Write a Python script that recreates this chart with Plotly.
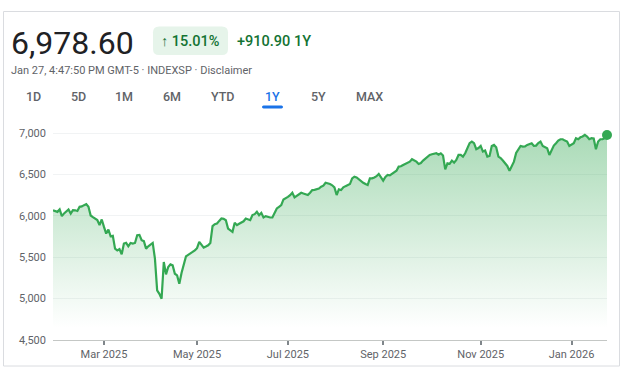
import plotly.graph_objects as go

# ---------------- data (daily closes, trading days only) ----------------
dates = [
    "2025-01-28", "2025-01-29", "2025-01-30", "2025-01-31",
    "2025-02-03", "2025-02-04", "2025-02-05", "2025-02-06", "2025-02-07", "2025-02-10",
    "2025-02-11", "2025-02-12", "2025-02-13", "2025-02-14", "2025-02-18", "2025-02-19",
    "2025-02-20", "2025-02-21", "2025-02-24", "2025-02-25", "2025-02-26", "2025-02-27",
    "2025-02-28",
    "2025-03-03", "2025-03-04", "2025-03-05", "2025-03-06", "2025-03-07", "2025-03-10",
    "2025-03-11", "2025-03-12", "2025-03-13", "2025-03-14", "2025-03-17", "2025-03-18",
    "2025-03-19", "2025-03-20", "2025-03-21", "2025-03-24", "2025-03-25", "2025-03-26",
    "2025-03-27", "2025-03-28", "2025-03-31",
    "2025-04-01", "2025-04-02", "2025-04-03", "2025-04-04", "2025-04-07", "2025-04-08",
    "2025-04-09", "2025-04-10", "2025-04-11", "2025-04-14", "2025-04-15", "2025-04-16",
    "2025-04-17", "2025-04-21", "2025-04-22", "2025-04-23", "2025-04-24", "2025-04-25",
    "2025-04-28", "2025-04-29", "2025-04-30",
    "2025-05-01", "2025-05-02", "2025-05-05", "2025-05-06", "2025-05-07", "2025-05-08",
    "2025-05-09", "2025-05-12", "2025-05-13", "2025-05-14", "2025-05-15", "2025-05-16",
    "2025-05-19", "2025-05-20", "2025-05-21", "2025-05-22", "2025-05-23", "2025-05-27",
    "2025-05-28", "2025-05-29", "2025-05-30",
    "2025-06-02", "2025-06-03", "2025-06-04", "2025-06-05", "2025-06-06", "2025-06-09",
    "2025-06-10", "2025-06-11", "2025-06-12", "2025-06-13", "2025-06-16", "2025-06-17",
    "2025-06-18", "2025-06-20", "2025-06-23", "2025-06-24", "2025-06-25", "2025-06-26",
    "2025-06-27", "2025-06-30",
    "2025-07-01", "2025-07-02", "2025-07-03", "2025-07-07", "2025-07-08", "2025-07-09",
    "2025-07-10", "2025-07-11", "2025-07-14", "2025-07-15", "2025-07-16", "2025-07-17",
    "2025-07-18", "2025-07-21", "2025-07-22", "2025-07-23", "2025-07-24", "2025-07-25",
    "2025-07-28", "2025-07-29", "2025-07-30", "2025-07-31",
    "2025-08-01", "2025-08-04", "2025-08-05", "2025-08-06", "2025-08-07", "2025-08-08",
    "2025-08-11", "2025-08-12", "2025-08-13", "2025-08-14", "2025-08-15", "2025-08-18",
    "2025-08-19", "2025-08-20", "2025-08-21", "2025-08-22", "2025-08-25", "2025-08-26",
    "2025-08-27", "2025-08-28", "2025-08-29",
    "2025-09-02", "2025-09-03", "2025-09-04", "2025-09-05", "2025-09-08", "2025-09-09",
    "2025-09-10", "2025-09-11", "2025-09-12", "2025-09-15", "2025-09-16", "2025-09-17",
    "2025-09-18", "2025-09-19", "2025-09-22", "2025-09-23", "2025-09-24", "2025-09-25",
    "2025-09-26", "2025-09-29", "2025-09-30",
    "2025-10-01", "2025-10-02", "2025-10-03", "2025-10-06", "2025-10-07", "2025-10-08",
    "2025-10-09", "2025-10-10", "2025-10-13", "2025-10-14", "2025-10-15", "2025-10-16",
    "2025-10-17", "2025-10-20", "2025-10-21", "2025-10-22", "2025-10-23", "2025-10-24",
    "2025-10-27", "2025-10-28", "2025-10-29", "2025-10-30", "2025-10-31",
    "2025-11-03", "2025-11-04", "2025-11-05", "2025-11-06", "2025-11-07", "2025-11-10",
    "2025-11-11", "2025-11-12", "2025-11-13", "2025-11-14", "2025-11-17", "2025-11-18",
    "2025-11-19", "2025-11-20", "2025-11-21", "2025-11-24", "2025-11-25", "2025-11-26",
    "2025-11-28",
    "2025-12-01", "2025-12-02", "2025-12-03", "2025-12-04", "2025-12-05", "2025-12-08",
    "2025-12-09", "2025-12-10", "2025-12-11", "2025-12-12", "2025-12-15", "2025-12-16",
    "2025-12-17", "2025-12-18", "2025-12-19", "2025-12-22", "2025-12-23", "2025-12-24",
    "2025-12-26", "2025-12-29", "2025-12-30", "2025-12-31",
    "2026-01-02", "2026-01-05", "2026-01-06", "2026-01-07", "2026-01-08", "2026-01-09",
    "2026-01-12", "2026-01-13", "2026-01-14", "2026-01-15", "2026-01-16", "2026-01-20",
    "2026-01-21", "2026-01-22", "2026-01-23", "2026-01-26", "2026-01-27",
]
prices = [
    6068, 6058, 6049, 6078,
    5997, 6030, 6050, 6078, 6029, 6070,
    6068, 6060, 6110, 6115, 6130, 6142,
    6110, 6005, 5985, 5969, 5950, 5888,
    5957,
    5867, 5787, 5835, 5754, 5760, 5604,
    5584, 5600, 5536, 5665, 5675, 5633,
    5673, 5665, 5673, 5766, 5770, 5706,
    5695, 5604, 5633,
    5650, 5673, 5483, 5099, 5058, 4998,
    5443, 5293, 5382, 5414, 5402, 5301,
    5281, 5180, 5309, 5422, 5511, 5530,
    5544, 5565, 5584,
    5610, 5686, 5650, 5617, 5630, 5645,
    5673, 5876, 5900, 5908, 5940, 5969,
    5965, 5948, 5847, 5827, 5807, 5916,
    5888, 5905, 5916,
    5935, 5969, 5955, 5948, 6010, 6021,
    6049, 6009, 6037, 5981, 5997, 5985,
    5981, 5981, 6030, 6090, 6110, 6130,
    6199, 6211,
    6230, 6250, 6280, 6223, 6239, 6260,
    6280, 6270, 6264, 6252, 6280, 6312,
    6315, 6320, 6330, 6353, 6365, 6401,
    6395, 6385, 6370, 6345,
    6252, 6320, 6312, 6345, 6360, 6373,
    6385, 6454, 6474, 6465, 6442, 6420,
    6401, 6385, 6373, 6454, 6454, 6465,
    6480, 6507, 6466,
    6426, 6470, 6495, 6490, 6507, 6530,
    6547, 6596, 6600, 6615, 6628, 6640,
    6656, 6685, 6670, 6656, 6628, 6640,
    6669, 6690, 6717,
    6737, 6745, 6750, 6757, 6740, 6757,
    6730, 6563, 6636, 6630, 6669, 6644,
    6677, 6737, 6737, 6717, 6757, 6830,
    6880, 6899, 6879, 6806, 6820,
    6846, 6778, 6790, 6717, 6725, 6846,
    6858, 6830, 6717, 6700, 6669, 6636,
    6604, 6547, 6600, 6656, 6760, 6798,
    6846,
    6838, 6840, 6858, 6865, 6879, 6846,
    6850, 6880, 6899, 6846, 6830, 6818,
    6737, 6798, 6850, 6879, 6910, 6927,
    6927, 6910, 6899, 6846,
    6865, 6879, 6939, 6927, 6950, 6960,
    6980, 6960, 6927, 6939, 6935, 6806,
    6899, 6927, 6927, 6940, 6978.6,
]
market_holidays = ["2025-02-17", "2025-04-18", "2025-05-26", "2025-06-19", "2025-07-04",
                   "2025-09-01", "2025-11-27", "2025-12-25", "2026-01-01", "2026-01-19"]
y_ticks = [4500, 5000, 5500, 6000, 6500, 7000]
x_ticks = ["2025-03-03", "2025-05-01", "2025-07-01", "2025-09-02", "2025-11-03", "2026-01-02"]
x_tick_labels = ["Mar 2025", "May 2025", "Jul 2025", "Sep 2025", "Nov 2025", "Jan 2026"]
last_price = "6,978.60"
pct_change = "↑15.01%"
abs_change = "+910.90 1Y"
subtitle = "Jan 27, 4:47:50 PM GMT-5 · INDEXSP · Disclaimer"
ranges = ["1D", "5D", "1M", "6M", "YTD", "1Y", "5Y", "MAX"]
active_range = "1Y"

# ---------------- figure ----------------
W, H = 640, 384
GREEN = "#34a853"
GREY = "#5f6368"
FONT = "Roboto"


def px_x(v):
    return v / W


def px_y(v):
    return 1 - v / H


base = [y_ticks[0]] * len(dates)

fig = go.Figure()
fig.add_trace(go.Scatter(x=dates, y=base, mode="lines", line=dict(width=0),
                         hoverinfo="skip", showlegend=False))
fig.add_trace(go.Scatter(
    x=dates, y=prices, mode="lines", fill="tonexty",
    line=dict(color=GREEN, width=2.2),
    fillgradient=dict(type="vertical", start=4650, stop=7000,
                      colorscale=[[0, "rgba(52,168,83,0)"], [1, "rgba(52,168,83,0.42)"]]),
    showlegend=False))
fig.add_trace(go.Scatter(x=[dates[-1]], y=[prices[-1]], mode="markers",
                         marker=dict(color=GREEN, size=10), cliponaxis=False,
                         showlegend=False))

fig.update_layout(
    template="none",
    width=W, height=H,
    margin=dict(l=0, r=0, t=0, b=0, pad=0),
    paper_bgcolor="white", plot_bgcolor="white",
    font=dict(family=FONT, color=GREY, size=11),
    xaxis=dict(
        automargin=False,
        domain=[px_x(53), px_x(607)],
        range=[dates[0], dates[-1]],
        rangebreaks=[dict(bounds=["sat", "mon"]), dict(values=market_holidays)],
        tickvals=x_ticks, ticktext=x_tick_labels,
        showgrid=False, zeroline=False,
        showline=True, linecolor="#c4c7c5", linewidth=1,
        ticks="outside", ticklen=4, tickcolor="#80868b", tickwidth=2,
        tickfont=dict(size=11, color=GREY),
    ),
    yaxis=dict(
        automargin=False,
        domain=[px_y(340), px_y(124.5)],
        range=[4500, 7105],
        tickvals=y_ticks, tickformat=",d",
        showgrid=True, gridcolor="#f1f3f4", gridwidth=1,
        zeroline=False, showline=False, ticks="",
        ticklabelstandoff=6,
        tickfont=dict(size=11, color=GREY),
    ),
)

shapes = []
# card border
shapes.append(dict(type="rect", xref="paper", yref="paper",
                   x0=px_x(3.5), x1=px_x(619.5), y0=px_y(366), y1=px_y(11.5),
                   line=dict(color="#dadce0", width=1), fillcolor="rgba(0,0,0,0)",
                   layer="below"))


def rounded_rect(x0, y0, x1, y1, r):
    # pixel coords -> paper path with rounded corners
    def P(x, y):
        return f"{px_x(x):.5f},{px_y(y):.5f}"
    return (f"M {P(x0 + r, y0)} L {P(x1 - r, y0)} Q {P(x1, y0)} {P(x1, y0 + r)} "
            f"L {P(x1, y1 - r)} Q {P(x1, y1)} {P(x1 - r, y1)} "
            f"L {P(x0 + r, y1)} Q {P(x0, y1)} {P(x0, y1 - r)} "
            f"L {P(x0, y0 + r)} Q {P(x0, y0)} {P(x0 + r, y0)} Z")


shapes.append(dict(type="path", xref="paper", yref="paper",
                   path=rounded_rect(153, 26.5, 228, 55, 6),
                   fillcolor="#e6f4ea", line=dict(width=0), layer="below"))
# underline of active range
shapes.append(dict(type="path", xref="paper", yref="paper",
                   path=rounded_rect(262, 105.5, 283, 108.5, 1.5),
                   fillcolor="#1a73e8", line=dict(width=0)))
fig.update_layout(shapes=shapes)

ann = []
ann.append(dict(text=last_price, x=px_x(9), y=px_y(43), xref="paper", yref="paper",
                xanchor="left", yanchor="middle", showarrow=False,
                font=dict(family=FONT, size=32, color="#202124")))
ann.append(dict(text="<b>" + pct_change[0] + "</b> " + pct_change[1:],
                x=px_x(190.5), y=px_y(41.5), xref="paper", yref="paper",
                xanchor="center", yanchor="middle", showarrow=False,
                font=dict(family=FONT, size=14.5, color="#137333", weight=500)))
ann.append(dict(text=abs_change, x=px_x(235), y=px_y(41.5), xref="paper", yref="paper",
                xanchor="left", yanchor="middle", showarrow=False,
                font=dict(family=FONT, size=14.5, color="#137333", weight=500)))
ann.append(dict(text=subtitle, x=px_x(9), y=px_y(70.5), xref="paper", yref="paper",
                xanchor="left", yanchor="middle", showarrow=False,
                font=dict(family=FONT, size=11, color=GREY)))
range_x = [33, 78, 124, 172, 223, 272, 318, 369]
for lab, cx in zip(ranges, range_x):
    ann.append(dict(text=lab, x=px_x(cx), y=px_y(96.5), xref="paper", yref="paper",
                    xanchor="center", yanchor="middle", showarrow=False,
                    font=dict(family=FONT, size=12.5, weight=500,
                              color="#1a73e8" if lab == active_range else GREY)))
fig.update_layout(annotations=ann)

fig.write_html("out.html",
               config={"displayModeBar": False},
               post_script="document.body.style.margin='0';document.body.style.overflow='hidden';")
